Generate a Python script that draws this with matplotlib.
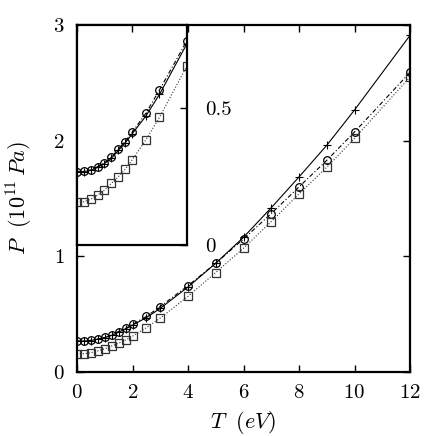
import numpy as np
import matplotlib
matplotlib.use("Agg")
import matplotlib.pyplot as plt

plt.rcParams['font.family'] = 'serif'
plt.rcParams['font.serif'] = ['cmr10', 'DejaVu Serif']
plt.rcParams['mathtext.fontset'] = 'cm'
plt.rcParams['axes.formatter.use_mathtext'] = True

# temperature (eV)
T = [0, 0.25, 0.5, 0.75, 1.0, 1.25, 1.5, 1.75, 2.0, 2.5, 3, 4, 5, 6, 7, 8, 9, 10, 12]

# pressure (10^11 Pa), three calculations
p_plus = [0.265, 0.268, 0.272, 0.283, 0.297, 0.316, 0.345, 0.372, 0.405, 0.47, 0.55,
          0.735, 0.94, 1.165, 1.42, 1.686, 1.96, 2.265, 2.91]
p_circ = [0.268, 0.270, 0.274, 0.286, 0.300, 0.320, 0.350, 0.377, 0.411, 0.48, 0.566,
          0.746, 0.94, 1.15, 1.37, 1.60, 1.83, 2.075, 2.59]
p_sq = [0.158, 0.158, 0.167, 0.182, 0.200, 0.225, 0.249, 0.276, 0.310, 0.383, 0.466,
        0.654, 0.86, 1.07, 1.30, 1.54, 1.77, 2.02, 2.55]

xticks = [0, 2, 4, 6, 8, 10, 12]
yticks = [0, 1, 2, 3]


def draw(ax):
    ax.plot(T, p_plus, '-', color='black', lw=0.8, marker='+', ms=6, mew=0.8)
    ax.plot(T, p_circ, color='black', lw=0.8, ls=(0, (4, 2, 1, 2)),
            marker='o', ms=5.5, mfc='none', mew=0.9)
    ax.plot(T, p_sq, ':', color='#333333', lw=0.8, marker='s', ms=5.5,
            mfc='none', mew=0.9)


fig = plt.figure(figsize=(4.36, 4.36), dpi=100)
ax = fig.add_axes([0.1766, 0.1468, 0.7638, 0.7959])
draw(ax)
ax.set_xlim(0, 12)
ax.set_ylim(0, 3)
ax.set_xticks(xticks)
ax.set_yticks(yticks)
ax.tick_params(direction='in', top=True, right=True, length=5, width=1,
               labelsize=15, pad=9)
for s in ax.spines.values():
    s.set_linewidth(1.6)
ax.set_xlabel(r'$T\ \ (eV)$', fontsize=16, labelpad=5)
ax.set_ylabel(r'$P\ \ (10^{11}\, Pa)$', fontsize=16, labelpad=13)

# inset
ins = fig.add_axes([0.1766, 0.4381, 0.2523, 0.5046])
draw(ins)
ins.set_xlim(0, 4)
ins.set_ylim(0, 0.803)
ins.set_xticks([0, 2, 4])
ins.set_yticks([0, 0.5])
ins.set_yticklabels(['0', '0.5'])
ins.tick_params(direction='in', top=True, bottom=False, left=False, right=True,
                labelleft=False, labelbottom=False, labelright=True,
                length=5, width=1, labelsize=15, pad=13)
for s in ins.spines.values():
    s.set_linewidth(1.6)

fig.savefig('out.png', dpi=100)
